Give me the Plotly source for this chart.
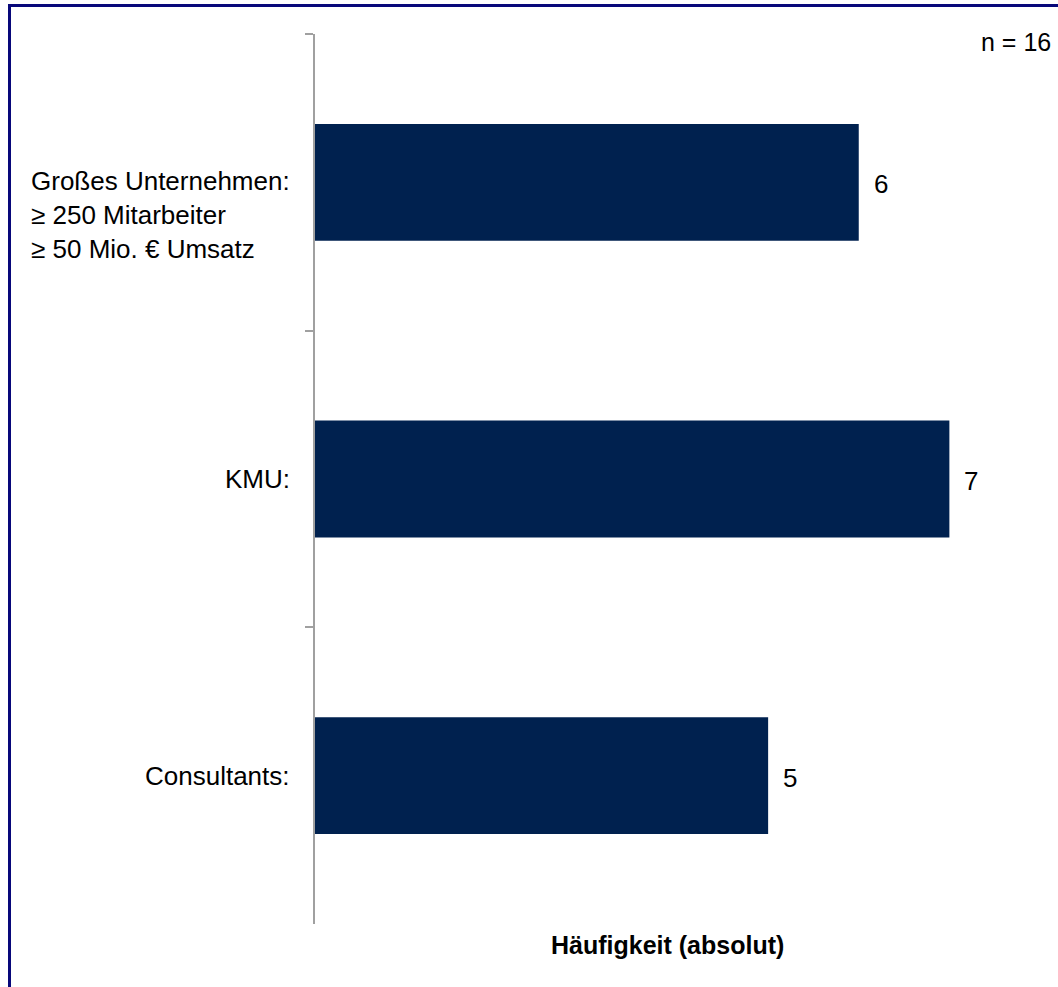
import plotly.graph_objects as go

# Survey respondents by company type
categories = ["Großes Unternehmen", "KMU", "Consultants"]
category_labels = [
    "Großes Unternehmen:<br>≥ 250 Mitarbeiter<br>≥ 50 Mio. € Umsatz",
    "KMU:",
    "Consultants:",
]
counts = [6, 7, 5]
sample_note = "n = 16"
axis_title = "Häufigkeit (absolut)"

W, H = 1058, 987
ML, MR, MT, MB = 315, 18, 34, 63
PW, PH = W - ML - MR, H - MT - MB

BAR = "#00214f"
NAVY = "#08087a"
GREY = "#a0a0a0"
FONT = "Liberation Sans, Arial, sans-serif"


def px_x(x):
    return (x - ML) / PW


def px_y(y):
    return (H - MB - y) / PH


fig = go.Figure(
    go.Bar(
        x=counts,
        y=categories,
        orientation="h",
        width=0.394,
        marker=dict(color=BAR, line=dict(width=0)),
        hoverinfo="skip",
    )
)

annotations = []
for cat, lab in zip(categories, category_labels):
    n_lines = lab.count("<br>") + 1
    # first line sits level with the bar's centre
    annotations.append(dict(
        x=0, y=cat, xref="x", yref="y", text=lab, showarrow=False,
        xanchor="right", yanchor="middle", align="left", xshift=-23,
        yshift=-(n_lines - 1) * 16.5,
        font=dict(family=FONT, size=26, color="#000000"),
    ))
for cat, v in zip(categories, counts):
    annotations.append(dict(
        x=v, y=cat, xref="x", yref="y", text=str(v), showarrow=False,
        xanchor="left", yanchor="middle", xshift=13, yshift=-2,
        font=dict(family=FONT, size=26, color="#000000"),
    ))
annotations.append(dict(
    x=px_x(1053), y=px_y(42), xref="paper", yref="paper", text=sample_note,
    showarrow=False, xanchor="right", yanchor="middle",
    font=dict(family=FONT, size=25, color="#000000"),
))
annotations.append(dict(
    x=px_x(667), y=px_y(945), xref="paper", yref="paper", text=f"<b>{axis_title}</b>",
    showarrow=False, xanchor="center", yanchor="middle",
    font=dict(family=FONT, size=25, color="#000000"),
))

# frame lines along the top and left edges of the page
shapes = [
    dict(type="line", xref="paper", yref="paper", x0=px_x(9.5), x1=px_x(W + 20),
         y0=px_y(5.5), y1=px_y(5.5), line=dict(color=NAVY, width=3)),
    dict(type="line", xref="paper", yref="paper", x0=px_x(9.5), x1=px_x(9.5),
         y0=px_y(4), y1=px_y(H + 20), line=dict(color=NAVY, width=3)),
]

fig.update_layout(
    width=W, height=H,
    margin=dict(l=ML, r=MR, t=MT, b=MB, pad=0),
    paper_bgcolor="white", plot_bgcolor="white",
    showlegend=False,
    annotations=annotations,
    shapes=shapes,
    xaxis=dict(range=[0, 8], visible=False, showgrid=False, zeroline=False),
    yaxis=dict(
        type="category", categoryorder="array", categoryarray=categories,
        autorange="reversed",
        showline=True, linecolor=GREY, linewidth=2,
        ticks="outside", tickson="boundaries", ticklen=8, tickwidth=2,
        tickcolor=GREY, showticklabels=False, showgrid=False, zeroline=False,
    ),
    bargap=0.6,
)

fig.write_html("out.html")
